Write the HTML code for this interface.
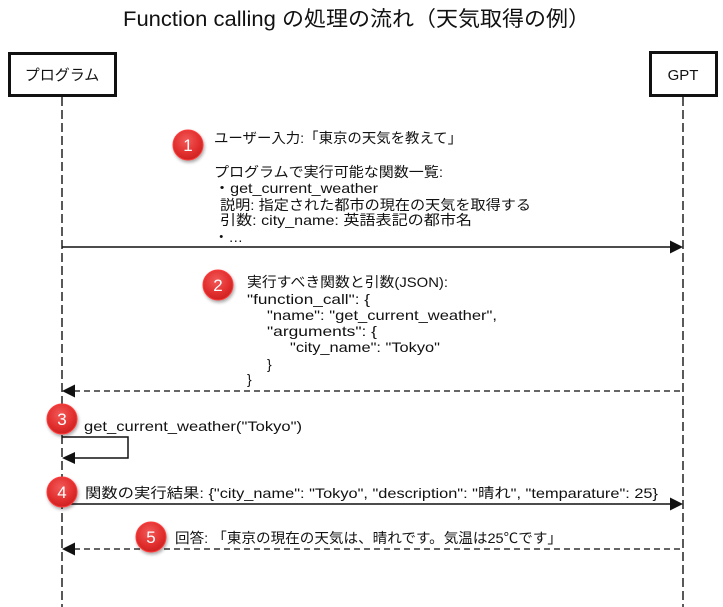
<!DOCTYPE html>
<html><head><meta charset="utf-8">
<style>
html,body{margin:0;padding:0;background:#fff;}
svg{display:block;}
text{font-family:"Liberation Sans","Noto Sans CJK JP",sans-serif;fill:#111;}
</style></head>
<body>
<svg width="723" height="607" viewBox="0 0 723 607" xmlns="http://www.w3.org/2000/svg">
<defs>
<radialGradient id="rg" cx="0.45" cy="0.35" r="0.7">
<stop offset="0" stop-color="#f25a5a"/>
<stop offset="0.6" stop-color="#e2302f"/>
<stop offset="1" stop-color="#c81f1f"/>
</radialGradient>
<filter id="sh" x="-50%" y="-50%" width="200%" height="200%">
<feDropShadow dx="1" dy="2" stdDeviation="1.5" flood-color="#000" flood-opacity="0.35"/>
</filter>
</defs>

<!-- title -->
<text x="123" y="26" font-size="21" textLength="467" lengthAdjust="spacingAndGlyphs" fill="#222">Function calling の処理の流れ（天気取得の例）</text>

<!-- lifelines -->
<line x1="62" y1="97" x2="62" y2="607" stroke="#222" stroke-width="1.5" stroke-dasharray="9,4"/>
<line x1="683" y1="97" x2="683" y2="607" stroke="#222" stroke-width="1.5" stroke-dasharray="9,4"/>

<!-- boxes -->
<rect x="9.5" y="53.5" width="106" height="42" fill="#fff" stroke="#111" stroke-width="3"/>
<text x="62" y="80" font-size="15" text-anchor="middle">プログラム</text>
<rect x="650.5" y="52.5" width="66" height="43" fill="#fff" stroke="#111" stroke-width="3"/>
<text x="683" y="80" font-size="15" text-anchor="middle">GPT</text>

<!-- message 1 -->
<line x1="62" y1="247" x2="671" y2="247" stroke="#111" stroke-width="1.5"/>
<polygon points="683,247 670,240.5 670,253.5" fill="#111"/>
<g font-size="14">
<text x="214" y="143" textLength="248" lengthAdjust="spacingAndGlyphs">ユーザー入力:「東京の天気を教えて」</text>
<text x="214" y="177" textLength="229" lengthAdjust="spacingAndGlyphs">プログラムで実行可能な関数一覧:</text>
<text x="214" y="193" textLength="164" lengthAdjust="spacingAndGlyphs">・get_current_weather</text>
<text x="220" y="210" textLength="311" lengthAdjust="spacingAndGlyphs">説明: 指定された都市の現在の天気を取得する</text>
<text x="220" y="225" textLength="252" lengthAdjust="spacingAndGlyphs">引数: city_name: 英語表記の都市名</text>
<text x="214" y="242" textLength="29" lengthAdjust="spacingAndGlyphs">・…</text>
</g>

<!-- message 2 -->
<line x1="74" y1="391" x2="683" y2="391" stroke="#333" stroke-width="1.5" stroke-dasharray="6,4"/>
<polygon points="62,391 75,384.5 75,397.5" fill="#111"/>
<g font-size="14">
<text x="247" y="287" textLength="201" lengthAdjust="spacingAndGlyphs">実行すべき関数と引数(JSON):</text>
<text x="247" y="304" textLength="123" lengthAdjust="spacingAndGlyphs">"function_call": {</text>
<text x="267" y="320" textLength="230" lengthAdjust="spacingAndGlyphs">"name": "get_current_weather",</text>
<text x="267" y="336" textLength="110" lengthAdjust="spacingAndGlyphs">"arguments": {</text>
<text x="290" y="352" textLength="150" lengthAdjust="spacingAndGlyphs">"city_name": "Tokyo"</text>
<text x="267" y="369">}</text>
<text x="247" y="384">}</text>
</g>

<!-- self call 3 -->
<polyline points="62,437 128,437 128,458 74,458" fill="none" stroke="#111" stroke-width="1.5"/>
<polygon points="62,458 75,452 75,464" fill="#111"/>
<text x="84" y="431" font-size="14" textLength="218" lengthAdjust="spacingAndGlyphs">get_current_weather("Tokyo")</text>

<!-- message 4 -->
<line x1="62" y1="504" x2="671" y2="504" stroke="#111" stroke-width="1.5"/>
<polygon points="683,504 670,497.5 670,510.5" fill="#111"/>
<text x="85" y="498" font-size="14" textLength="573" lengthAdjust="spacingAndGlyphs">関数の実行結果: {"city_name": "Tokyo", "description": "晴れ", "temparature": 25}</text>

<!-- message 5 -->
<line x1="74" y1="549" x2="683" y2="549" stroke="#333" stroke-width="1.5" stroke-dasharray="6,4"/>
<polygon points="62,549 75,542.5 75,555.5" fill="#111"/>
<text x="175" y="543" font-size="14" textLength="387" lengthAdjust="spacingAndGlyphs">回答: 「東京の現在の天気は、晴れです。気温は25℃です」</text>

<!-- circles -->
<g filter="url(#sh)">
<circle cx="188" cy="145" r="15" fill="url(#rg)" stroke="#ff3a3a" stroke-width="1"/>
<circle cx="218" cy="285" r="15" fill="url(#rg)" stroke="#ff3a3a" stroke-width="1"/>
<circle cx="62" cy="419" r="15" fill="url(#rg)" stroke="#ff3a3a" stroke-width="1"/>
<circle cx="62" cy="492" r="15" fill="url(#rg)" stroke="#ff3a3a" stroke-width="1"/>
<circle cx="151" cy="537" r="15" fill="url(#rg)" stroke="#ff3a3a" stroke-width="1"/>
</g>
<g font-size="17" text-anchor="middle" style="fill:#fff">
<text x="188" y="151" style="fill:#fff">1</text>
<text x="218" y="291" style="fill:#fff">2</text>
<text x="62" y="425" style="fill:#fff">3</text>
<text x="62" y="498" style="fill:#fff">4</text>
<text x="151" y="543" style="fill:#fff">5</text>
</g>
</svg>
</body></html>
